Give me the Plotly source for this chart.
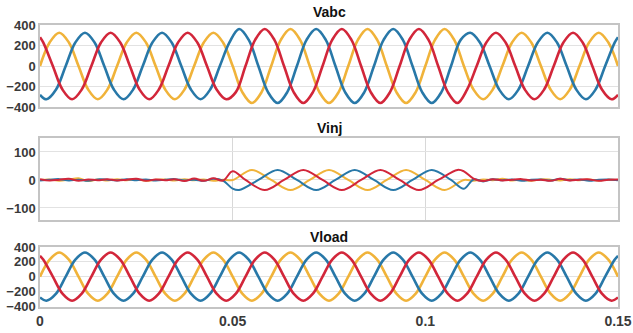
import plotly.graph_objects as go
from plotly.subplots import make_subplots

# ---------------- data (knots, every 1/8 cycle) ----------------
t_a = [0.0, 0.0025, 0.005, 0.0075, 0.01, 0.0125, 0.015, 0.0175, 0.02, 0.0225,
       0.025, 0.0275, 0.03, 0.0325, 0.035, 0.0375, 0.04, 0.0425, 0.045, 0.0475,
       0.05, 0.0525, 0.055, 0.0575, 0.06, 0.0625, 0.065, 0.0675, 0.07, 0.0725,
       0.075, 0.0775, 0.08, 0.0825, 0.085, 0.0875, 0.09, 0.0925, 0.095, 0.0975,
       0.1, 0.1025, 0.105, 0.1075, 0.11, 0.1125, 0.115, 0.1175, 0.12, 0.1225,
       0.125, 0.1275, 0.13, 0.1325, 0.135, 0.1375, 0.14, 0.1425, 0.145, 0.1475, 0.15]
t_b = [0.0, 0.00167, 0.00417, 0.00667, 0.00917, 0.01167, 0.01417, 0.01667, 0.01917,
       0.02167, 0.02417, 0.02667, 0.02917, 0.03167, 0.03417, 0.03667, 0.03917, 0.04167,
       0.04417, 0.04667, 0.04917, 0.05167, 0.05417, 0.05667, 0.05917, 0.06167, 0.06417,
       0.06667, 0.06917, 0.07167, 0.07417, 0.07667, 0.07917, 0.08167, 0.08417, 0.08667,
       0.08917, 0.09167, 0.09417, 0.09667, 0.09917, 0.10167, 0.10417, 0.10667, 0.10917,
       0.11167, 0.11417, 0.11667, 0.11917, 0.12167, 0.12417, 0.12667, 0.12917, 0.13167,
       0.13417, 0.13667, 0.13917, 0.14167, 0.14417, 0.14667, 0.14917, 0.15]
t_c = [0.0, 0.00083, 0.00333, 0.00583, 0.00833, 0.01083, 0.01333, 0.01583, 0.01833,
       0.02083, 0.02333, 0.02583, 0.02833, 0.03083, 0.03333, 0.03583, 0.03833, 0.04083,
       0.04333, 0.04583, 0.04833, 0.05083, 0.05333, 0.05583, 0.05833, 0.06083, 0.06333,
       0.06583, 0.06833, 0.07083, 0.07333, 0.07583, 0.07833, 0.08083, 0.08333, 0.08583,
       0.08833, 0.09083, 0.09333, 0.09583, 0.09833, 0.10083, 0.10333, 0.10583, 0.10833,
       0.11083, 0.11333, 0.11583, 0.11833, 0.12083, 0.12333, 0.12583, 0.12833, 0.13083,
       0.13333, 0.13583, 0.13833, 0.14083, 0.14333, 0.14583, 0.14833, 0.15]

vabc_a = [0, 230, 325, 230, 0, -230, -325, -230,
          0, 230, 325, 230, 0, -230, -325, -230,
          0, 230, 325, 230,
          0, -255, -361, -255,
          0, 255, 361, 255, 0, -255, -361, -255,
          0, 255, 361, 255, 0, -255, -361, -255,
          0, 255, 361, 255, 0,
          -230, -325, -230,
          0, 230, 325, 230, 0, -230, -325, -230,
          0, 230, 325, 230, 0]
vabc_b = [-281,
          -325, -230, 0, 230, 325, 230, 0, -230,
          -325, -230, 0, 230, 325, 230, 0, -230,
          -325, -230, 0, 230,
          361, 255, 0, -255,
          -361, -255, 0, 255, 361, 255, 0, -255,
          -361, -255, 0, 255, 361, 255, 0, -255,
          -361, -255, 0, 255,
          325, 230, 0, -230,
          -325, -230, 0, 230, 325, 230, 0, -230,
          -325, -230, 0, 230,
          281]
vabc_c = [281,
          230, 0, -230, -325, -230, 0, 230, 325,
          230, 0, -230, -325, -230, 0, 230, 325,
          230, 0, -230, -325,
          -255, 0, 255, 361,
          255, 0, -255, -361, -255, 0, 255, 361,
          255, 0, -255, -361, -255, 0, 255, 361,
          255, 0, -255, -361,
          -230, 0, 230, 325,
          230, 0, -230, -325, -230, 0, 230, 325,
          230, 0, -230, -325,
          -281]

vload_a = [0, 230, 325, 230, 0, -230, -325, -230,
           0, 230, 325, 230, 0, -230, -325, -230,
           0, 230, 325, 230,
           0, -230, -325, -230,
           0, 230, 325, 230, 0, -230, -325, -230,
           0, 230, 325, 230, 0, -230, -325, -230,
           0, 230, 325, 230, 0,
           -230, -325, -230,
           0, 230, 325, 230, 0, -230, -325, -230,
           0, 230, 325, 230, 0]
vload_b = [-281,
           -325, -230, 0, 230, 325, 230, 0, -230,
           -325, -230, 0, 230, 325, 230, 0, -230,
           -325, -230, 0, 230,
           325, 230, 0, -230,
           -325, -230, 0, 230, 325, 230, 0, -230,
           -325, -230, 0, 230, 325, 230, 0, -230,
           -325, -230, 0, 230,
           325, 230, 0, -230,
           -325, -230, 0, 230, 325, 230, 0, -230,
           -325, -230, 0, 230,
           281]
vload_c = [281,
           230, 0, -230, -325, -230, 0, 230, 325,
           230, 0, -230, -325, -230, 0, 230, 325,
           230, 0, -230, -325,
           -230, 0, 230, 325,
           230, 0, -230, -325, -230, 0, 230, 325,
           230, 0, -230, -325, -230, 0, 230, 325,
           230, 0, -230, -325,
           -230, 0, 230, 325,
           230, 0, -230, -325, -230, 0, 230, 325,
           230, 0, -230, -325,
           -281]

# Vinj: noise before / after the disturbance, injected wave during it
t_pre = [0.0, 0.0025, 0.005, 0.0075, 0.01, 0.0125, 0.015, 0.0175, 0.02, 0.0225,
         0.025, 0.0275, 0.03, 0.0325, 0.035, 0.0375, 0.04, 0.0425, 0.045, 0.0475]
t_post = [0.1125, 0.115, 0.1175, 0.12, 0.1225, 0.125, 0.1275, 0.13, 0.1325, 0.135,
          0.1375, 0.14, 0.1425, 0.145, 0.1475, 0.15]
inj_pre_a = [0, 2, -3, 1, 6, -4, 2, -2, 3, -1, 2, -3, 1, 2, -2, 3, -1, 2, -3, 1]
inj_pre_b = [-2, 1, 3, -2, 1, -3, 2, 1, -2, 3, -1, 2, -2, 1, 3, -2, 1, -3, 4, -2]
inj_pre_c = [3, -2, 1, 4, -3, 2, -1, 3, -2, 1, 4, -3, 2, -1, 3, -4, 5, -3, 6, -2]
inj_post_a = [-3, 2, -1, 4, -2, 1, -3, 2, 1, -2, 3, -1, 2, -2, 1, 0]
inj_post_b = [2, -5, 3, -1, 2, -3, 1, 2, -2, 4, -1, 2, -3, 1, 2, -1]
inj_post_c = [5, -4, 3, -2, 1, 3, -2, 1, -3, 4, -2, 1, 2, -3, 1, 2]

t_inj_a = [0.05, 0.055, 0.06, 0.065, 0.07, 0.075, 0.08, 0.085, 0.09, 0.095, 0.10, 0.105, 0.11]
inj_a = [0, 36, 0, -36, 0, 36, 0, -36, 0, 36, 0, -36, 0]
t_inj_b = [0.05, 0.05167, 0.05667, 0.06167, 0.06667, 0.07167, 0.07667, 0.08167, 0.08667,
           0.09167, 0.09667, 0.10167, 0.10667, 0.11]
inj_b = [-31, -36, 0, 36, 0, -36, 0, 36, 0, -36, 0, 36, 0, -31]
t_inj_c = [0.05, 0.05333, 0.05833, 0.06333, 0.06833, 0.07333, 0.07833, 0.08333, 0.08833,
           0.09333, 0.09833, 0.10333, 0.10833, 0.11]
inj_c = [31, 0, -36, 0, 36, 0, -36, 0, 36, 0, -36, 0, 36, 31]

titles = ["Vabc", "Vinj", "Vload"]
x_ticks = [0, 0.05, 0.1, 0.15]
x_tick_text = ["0", "0.05", "0.1", "0.15"]

# ---------------- figure ----------------
YEL, BLU, RED = "#f0b33a", "#2878a8", "#d2263a"
FONT = "Liberation Sans, Arial, sans-serif"

fig = make_subplots(rows=3, cols=1)

def add(row, t, v, color, width, smooth=1.0):
    fig.add_trace(go.Scatter(x=t, y=v, mode="lines",
                             line=dict(color=color, width=width, shape="spline", smoothing=smooth),
                             showlegend=False, hoverinfo="skip"), row=row, col=1)

add(1, t_a, vabc_a, YEL, 2.6)
add(1, t_b, vabc_b, BLU, 2.6)
add(1, t_c, vabc_c, RED, 2.6)

add(2, t_pre + t_inj_a + t_post, inj_pre_a + inj_a + inj_post_a, YEL, 2)
add(2, t_pre + t_inj_b + t_post, inj_pre_b + inj_b + inj_post_b, BLU, 2)
add(2, t_pre + t_inj_c + t_post, inj_pre_c + inj_c + inj_post_c, RED, 2)

add(3, t_a, vload_a, YEL, 2.6)
add(3, t_b, vload_b, BLU, 2.6)
add(3, t_c, vload_c, RED, 2.6)

W, H = 633, 333
mt, mb = 25, 26
ph = H - mt - mb
def dom(top_px, bot_px):
    return [(H - mb - bot_px) / ph, (H - mb - top_px) / ph]

ytf = dict(family=FONT, size=13, color="#3a3a3a", weight="bold")
axis_common = dict(showline=True, mirror=True, linecolor="#c4c4c4", linewidth=1.5,
                   ticks="", zeroline=False, automargin=False)

fig.update_layout(
    width=W, height=H, margin=dict(l=40, r=15, t=mt, b=mb),
    paper_bgcolor="white", plot_bgcolor="white",
    font=dict(family=FONT),
    yaxis=dict(domain=dom(25, 107), range=[-400, 400], tickvals=[-400, -200, 0, 200, 400],
               showgrid=True, gridcolor="#e2e2e2", tickfont=ytf, **axis_common),
    yaxis2=dict(domain=dom(138, 220), range=[-143, 150], tickvals=[-100, 0, 100],
                showgrid=True, gridcolor="#e2e2e2", tickfont=ytf, **axis_common),
    yaxis3=dict(domain=dom(247, 307), range=[-410, 400], tickvals=[-400, -200, 0, 200, 400],
                showgrid=True, gridcolor="#e2e2e2", tickfont=ytf, **axis_common),
    xaxis=dict(range=[0, 0.15], showticklabels=False, showgrid=False, **axis_common),
    xaxis2=dict(range=[0, 0.15], showticklabels=False, showgrid=True, gridcolor="#d8d8d8",
                tickvals=x_ticks, **axis_common),
    xaxis3=dict(range=[0, 0.15], showgrid=False, tickvals=x_ticks, ticktext=x_tick_text,
                tickfont=dict(family=FONT, size=14, color="#3a3a3a", weight="bold"), **axis_common),
)

for txt, ypx in zip(titles, [12, 128, 237]):
    fig.add_annotation(text="<b>%s</b>" % txt, x=0.5, xref="paper",
                       y=(H - mb - ypx) / ph, yref="paper", showarrow=False,
                       font=dict(family=FONT, size=14, color="#111111"), yanchor="middle")

fig.write_html("out.html", config={"displayModeBar": False},
               post_script="document.body.style.margin='0';document.body.style.overflow='hidden';")
